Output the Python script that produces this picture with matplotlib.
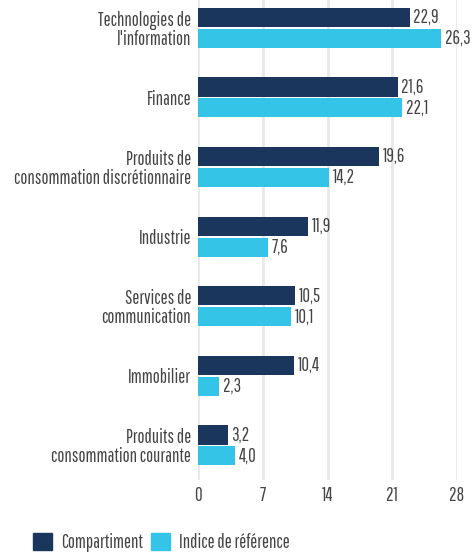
import matplotlib.pyplot as plt
import numpy as np
from matplotlib.patches import Patch

plt.rcParams["font.family"] = ["Pathway Gothic One", "DejaVu Sans"]

sectors = [
    "Technologies de\nl'information",
    "Finance",
    "Produits de\nconsommation discrétionnaire",
    "Industrie",
    "Services de\ncommunication",
    "Immobilier",
    "Produits de\nconsommation courante",
]
fund = [22.9, 21.6, 19.6, 11.9, 10.5, 10.4, 3.2]
bench = [26.3, 22.1, 14.2, 7.6, 10.1, 2.3, 4.0]
xticks = [0, 7, 14, 21, 28]

dark = "#1b365d"
light = "#33c4e8"
txt = "#444444"
fs = 13.5

fig = plt.figure(figsize=(4.74, 5.52), dpi=100)
ax = fig.add_axes([0.418, 0.13, 0.546, 0.87])

y = np.arange(len(sectors))
h = 0.275
ax.barh(y - 0.15, fund, height=h, color=dark, zorder=3)
ax.barh(y + 0.15, bench, height=h, color=light, zorder=3)

for yi, v in zip(y, fund):
    ax.text(v + 0.4, yi - 0.15, f"{v:.1f}".replace(".", ","), va="center", ha="left",
            fontsize=fs, color=txt)
for yi, v in zip(y, bench):
    ax.text(v + 0.4, yi + 0.15, f"{v:.1f}".replace(".", ","), va="center", ha="left",
            fontsize=fs, color=txt, clip_on=False)

ax.set_xlim(0, 28)
ax.set_ylim(6.5, -0.4)
ax.set_xticks(xticks)
ax.set_xticklabels([str(t) for t in xticks], fontsize=fs, color=txt)
ax.set_yticks(y)
ax.set_yticklabels(sectors, fontsize=fs, color=txt, linespacing=1.0)
ax.tick_params(axis="y", length=0, pad=5)
ax.tick_params(axis="x", length=0, pad=4)
ax.grid(axis="x", color="#e8e8e8", linewidth=2, zorder=0)
for s in ax.spines.values():
    s.set_visible(False)

handles = [Patch(color=dark, label="Compartiment"), Patch(color=light, label="Indice de référence")]
fig.legend(handles=handles, loc="lower left", bbox_to_anchor=(0.035, -0.03), ncol=2,
           frameon=False, fontsize=fs, handlelength=1.0, handleheight=1.0,
           handletextpad=0.5, columnspacing=0.4, labelcolor=txt)

fig.savefig("out.png", dpi=100)
